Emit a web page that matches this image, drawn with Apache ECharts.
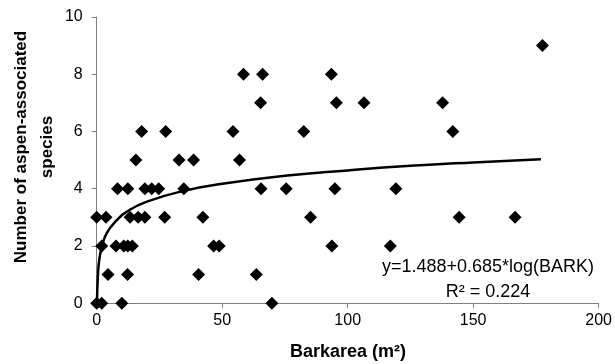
<!DOCTYPE html>
<html>
<head>
    <meta charset="UTF-8">
    <title>Barkarea vs species</title>
    <script src="https://cdn.jsdelivr.net/npm/echarts@6/dist/echarts.min.js"></script>
    <style>
        body { margin: 0; background: #fff; }
        #main { width: 615px; height: 364px; }
    </style>
</head>
<body>
<div id="main"></div>
<script type="text/javascript">
    // bark area (m2) and species count for each plot
    var barkX = [0, 2, 10, 69.8,
        4.5, 12.3, 40.6, 63.6,
        2, 7.7, 10.8, 12.4, 14.2, 46.6, 48.8, 93.7, 117,
        0, 3.7, 13.3, 16.5, 19.2, 27.1, 42.3, 85.2, 144.4, 166.7,
        8.3, 12.4, 19.2, 21.9, 24.7, 34.7, 65.5, 75.5, 94.9, 119.2,
        15.6, 32.8, 38.6, 56.9,
        17.9, 27.5, 54.3, 82.5, 141.9,
        65.3, 95.5, 106.5, 137.8,
        58.5, 66.1, 93.5,
        177.6];
    var speciesY = [0, 0, 0, 0,
        1, 1, 1, 1,
        2, 2, 2, 2, 2, 2, 2, 2, 2,
        3, 3, 3, 3, 3, 3, 3, 3, 3, 3,
        4, 4, 4, 4, 4, 4, 4, 4, 4, 4,
        5, 5, 5, 5,
        6, 6, 6, 6, 6,
        7, 7, 7, 7,
        8, 8, 8,
        9];
    // fitted curve
    var fitX = [0.1, 0.5, 1, 2, 4, 8, 12, 20, 35, 50, 75, 100, 125, 150, 177];
    var fitY = [0, 1.0, 1.5, 1.95, 2.45, 2.9, 3.2, 3.55, 3.93, 4.17, 4.45, 4.64, 4.8, 4.92, 5.03];
    var xTicks = [0, 50, 100, 150, 200];
    var yTicks = [0, 2, 4, 6, 8, 10];

    var pts = [];
    for (var i = 0; i < barkX.length; i++) {
        pts.push([barkX[i], speciesY[i]]);
    }
    var fit = [];
    for (var n = 0; n < fitX.length; n++) {
        fit.push([fitX[n], fitY[n]]);
    }

    var fontFam = 'Arial, "Liberation Sans", sans-serif';
    var myChart = echarts.init(document.getElementById('main'));
    myChart.setOption({
        animation: false,
        grid: { left: 96.7, right: 14.3, top: 17, bottom: 60.8 },
        xAxis: {
            type: 'value',
            min: xTicks[0], max: xTicks[xTicks.length - 1], interval: 50,
            splitLine: { show: false },
            axisLine: { lineStyle: { color: '#808080', width: 1 } },
            axisTick: { length: 5, lineStyle: { color: '#808080' } },
            axisLabel: { color: '#000', fontSize: 16, fontFamily: fontFam, margin: 9 }
        },
        yAxis: {
            type: 'value',
            min: yTicks[0], max: yTicks[yTicks.length - 1], interval: 2,
            splitLine: { show: false },
            axisLine: { show: true, lineStyle: { color: '#808080', width: 1 } },
            axisTick: { show: true, length: 5, lineStyle: { color: '#808080' } },
            axisLabel: { color: '#000', fontSize: 16, fontFamily: fontFam, margin: 14 }
        },
        series: [{
            type: 'scatter',
            data: pts,
            symbol: 'diamond',
            symbolSize: 13,
            itemStyle: { color: '#000', opacity: 1 },
            z: 3
        }, {
            type: 'line',
            data: fit,
            smooth: true,
            showSymbol: false,
            lineStyle: { color: '#000', width: 2.5 },
            z: 4
        }],
        graphic: [{
            type: 'text', x: 34, y: 147, rotation: Math.PI / 2,
            style: {
                text: 'Number of aspen-associated\nspecies',
                font: 'bold 17px ' + fontFam, fill: '#000',
                align: 'center', verticalAlign: 'middle', lineHeight: 26
            }
        }, {
            type: 'text', x: 348, y: 352,
            style: {
                text: 'Barkarea (m²)', font: 'bold 18px ' + fontFam, fill: '#000',
                align: 'center', verticalAlign: 'middle'
            }
        }, {
            type: 'text', x: 488, y: 267,
            style: {
                text: 'y=1.488+0.685*log(BARK)', font: '18px ' + fontFam, fill: '#000',
                align: 'center', verticalAlign: 'middle'
            }
        }, {
            type: 'text', x: 488, y: 292,
            style: {
                text: 'R² = 0.224', font: '18px ' + fontFam, fill: '#000',
                align: 'center', verticalAlign: 'middle'
            }
        }]
    });
</script>
</body>
</html>
